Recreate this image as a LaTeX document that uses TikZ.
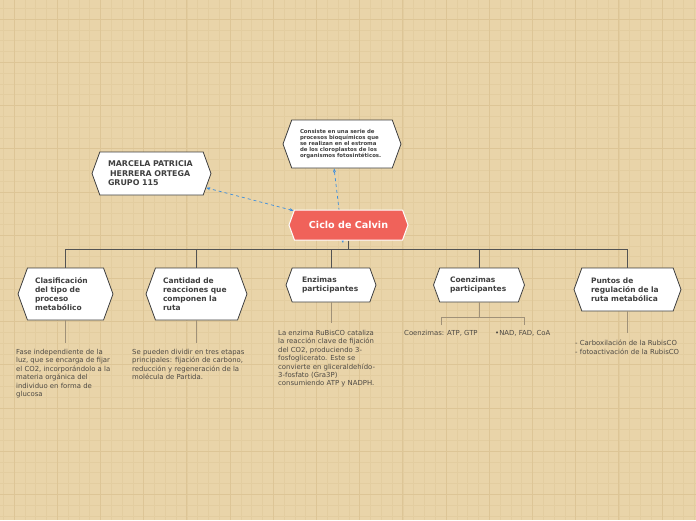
\documentclass[tikz,border=0pt]{standalone}
\usepackage{fontspec}
\setmainfont{DejaVu Sans}
\usepackage{xcolor}
\usepackage{tikz}
\usetikzlibrary{shapes.symbols, arrows.meta, positioning, backgrounds}
\pgfdeclarelayer{links}
\pgfsetlayers{background,links,main}
\definecolor{paper}{RGB}{233,212,169}
\definecolor{gridline}{RGB}{227,205,160}
\definecolor{gridmajor}{RGB}{221,197,150}
\definecolor{calvinred}{RGB}{240,98,90}
\definecolor{boxedge}{RGB}{64,64,64}
\definecolor{titlegray}{RGB}{64,64,64}
\definecolor{bodygray}{RGB}{78,74,68}
\definecolor{subline}{RGB}{160,145,120}
\definecolor{linkblue}{RGB}{58,141,222}
\tikzset{
  hexbox/.style={shape=signal, signal to=west and east, signal pointer angle=140,
    draw=boxedge, line width=0.8pt, fill=white, inner sep=0pt, align=left,
    text=titlegray, font=\fontsize{7.5}{9.2}\selectfont\bfseries},
  bodytext/.style={anchor=north west, inner sep=0pt, align=left, text=bodygray,
    font=\fontsize{6.9}{8.4}\selectfont},
  tree/.style={draw=boxedge!90, line width=0.8pt},
  subtree/.style={draw=subline, line width=0.6pt},
  link/.style={draw=linkblue, dashed, line width=0.7pt, {Stealth[length=4pt]}-{Stealth[length=4pt]}}
}

\begin{document}
\begin{tikzpicture}[x=1pt, y=-1pt]
\useasboundingbox (0,0) rectangle (696,520);
% Paper
\begin{scope}[on background layer]
\fill[paper] (0,0) rectangle (696,520);
\foreach \i in {0,...,64}
  \draw[gridline, line width=0.45pt] (3.2+\i*10.8,0) -- (3.2+\i*10.8,520);
\foreach \j in {0,...,48}
  \draw[gridline, line width=0.45pt] (0,8.3+\j*10.8) -- (696,8.3+\j*10.8);
\foreach \i in {0,...,16}
  \draw[gridmajor, line width=0.7pt] (14+\i*43.2,0) -- (14+\i*43.2,520);
\foreach \j in {0,...,12}
  \draw[gridmajor, line width=0.7pt] (0,19.1+\j*43.2) -- (696,19.1+\j*43.2);
\end{scope}
% Central topic
\node[hexbox, fill=calvinred, draw=white, line width=1pt, text=white,
  font=\fontsize{9.6}{11}\selectfont\bfseries, align=center,
  minimum width=119pt, minimum height=30pt] (calvin) at (348.5,225) {Ciclo de Calvin};
% Floating topics
\node[hexbox, font=\fontsize{5.4}{6.2}\selectfont\bfseries, text width=84pt,
  minimum width=118pt, minimum height=48pt] (desc) at (342,144)
  {Consiste en una serie de\\procesos bioquímicos que\\se realizan en el estroma\\de los cloroplastos de los\\organismos fotosintéticos.};
\node[hexbox, font=\fontsize{7.9}{9.5}\selectfont\bfseries, text width=87pt,
  minimum width=119pt, minimum height=43pt] (name) at (151.5,173.5)
  {MARCELA PATRICIA\\\hspace*{2pt}HERRERA ORTEGA\\GRUPO 115};
% Subtopics
\node[hexbox, text width=61pt, minimum width=95pt, minimum height=52pt] (clasif) at (65.5,294)
  {Clasificación\\del tipo de\\proceso\\metabólico};
\node[hexbox, text width=67pt, minimum width=101pt, minimum height=52pt] (cantidad) at (196.5,294)
  {Cantidad de\\reacciones que\\componen la\\ruta};
\node[hexbox, text width=58pt, minimum width=90pt, minimum height=34pt] (enzimas) at (331,285)
  {Enzimas\\participantes};
\node[hexbox, text width=58pt, minimum width=91pt, minimum height=34pt] (coenz) at (479,285)
  {Coenzimas\\participantes};
\node[hexbox, text width=73pt, minimum width=107pt, minimum height=43pt] (puntos) at (627.5,289.5)
  {Puntos de\\regulación de la\\ruta metabólica};
% Notes
\node[bodytext] (nclasif) at (16,349)
  {Fase independiente de la\\luz, que se encarga de fijar\\el CO2, incorporándolo a la\\materia orgánica del\\individuo en forma de\\glucosa};
\node[bodytext] (ncantidad) at (132,349)
  {Se pueden dividir en tres etapas\\principales: fijación de carbono,\\reducción y regeneración de la\\molécula de Partida.};
\node[bodytext] (nenzimas) at (278,330)
  {La enzima RuBisCO cataliza\\la reacción clave de fijación\\del CO2, produciendo 3-\\fosfoglicerato. Este se\\convierte en gliceraldehído-\\3-fosfato (Gra3P)\\consumiendo ATP y NADPH.};
\node[bodytext] (ncoenz1) at (404,330) {Coenzimas: ATP, GTP};
\node[bodytext] (ncoenz2) at (495,330) {•NAD, FAD, CoA};
\node[bodytext] (npuntos) at (575,340)
  {- Carboxilación de la RubisCO\\- fotoactivación de la RubisCO};
% Tree
\coordinate (bar) at (0,249);
\draw[tree] (calvin.south) -- (calvin.south |- bar);
\draw[tree] (clasif.north) -- (clasif.north |- bar) -- (puntos.north |- bar) -- (puntos.north);
\foreach \t in {cantidad, enzimas, coenz}
  \draw[tree] (\t.north) -- (\t.north |- bar);
% Note lines
\draw[subtree] (clasif.south) -- (clasif.south |- 0,343);
\draw[subtree] (cantidad.south) -- (cantidad.south |- 0,343);
\draw[subtree] (enzimas.south) -- (enzimas.south |- 0,323);
\draw[subtree] (puntos.south) -- (puntos.south |- 0,333);
\coordinate (cz1) at (441,325);
\coordinate (cz2) at (524,325);
\draw[subtree] (coenz.south) -- (coenz.south |- 0,317);
\draw[subtree] (cz1) -- (cz1 |- 0,317) -- (cz2 |- 0,317) -- (cz2);
% Relations
\begin{pgfonlayer}{links}
\coordinate (dlink) at (343,243);
\draw[link] (calvin) -- (name);
\draw[link] (dlink) -- (desc.252);
\end{pgfonlayer}
\end{tikzpicture}
\end{document}
